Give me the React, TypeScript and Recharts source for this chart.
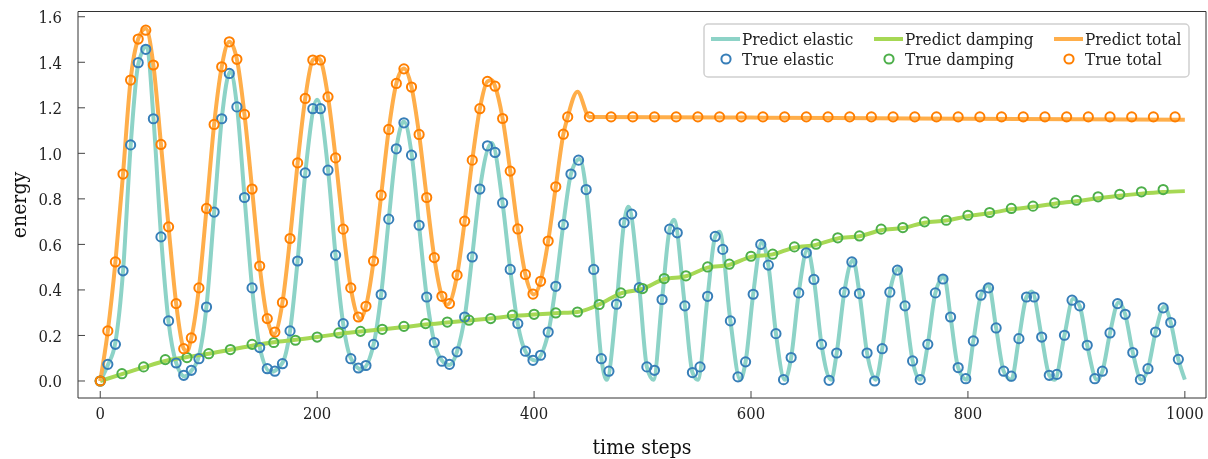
import React from 'react';
import { ComposedChart, Line, XAxis, YAxis, ReferenceArea } from 'recharts';

const FONT = '"DejaVu Serif Condensed", "DejaVu Serif", serif';
const TEXT_STYLE = { fontStretch: 'condensed' as const };

// ---- Tick labels ----
const xTicks = [0, 200, 400, 600, 800, 1000];
const yTicks = [0, 0.2, 0.4, 0.6, 0.8, 1.0, 1.2, 1.4, 1.6];
const xDomain = [-20.5, 1019.5];
const yDomain = [-0.0747, 1.623];

// ---- True elastic (markers) ----
const trueElasticSteps = [
  0, 7, 14, 21, 28, 35, 42, 49, 56, 63, 70, 77, 84, 91, 98, 105, 112, 119, 126, 133,
  140, 147, 154, 161, 168, 175, 182, 189, 196, 203, 210, 217, 224, 231, 238, 245, 252, 259, 266, 273,
  280, 287, 294, 301, 308, 315, 322, 329, 336, 343, 350, 357, 364, 371, 378, 385, 392, 399, 406, 413,
  420, 427, 434, 441, 448, 455, 462, 469, 476, 483, 490, 497, 504, 511, 518, 525, 532, 539, 546, 553,
  560, 567, 574, 581, 588, 595, 602, 609, 616, 623, 630, 637, 644, 651, 658, 665, 672, 679, 686, 693,
  700, 707, 714, 721, 728, 735, 742, 749, 756, 763, 770, 777, 784, 791, 798, 805, 812, 819, 826, 833,
  840, 847, 854, 861, 868, 875, 882, 889, 896, 903, 910, 917, 924, 931, 938, 945, 952, 959, 966, 973,
  980, 987, 994,
];
const trueElasticValues = [
  0.0, 0.073, 0.161, 0.484, 1.037, 1.398, 1.457, 1.152, 0.633, 0.264, 0.079, 0.025, 0.047, 0.098, 0.325, 0.742, 1.152, 1.351, 1.204, 0.806,
  0.409, 0.147, 0.054, 0.043, 0.076, 0.22, 0.527, 0.914, 1.196, 1.196, 0.926, 0.553, 0.252, 0.098, 0.057, 0.068, 0.161, 0.38, 0.711, 1.02,
  1.134, 0.992, 0.684, 0.369, 0.169, 0.087, 0.073, 0.128, 0.281, 0.545, 0.843, 1.033, 1.004, 0.782, 0.49, 0.252, 0.131, 0.091, 0.113, 0.215,
  0.416, 0.687, 0.909, 0.97, 0.841, 0.49, 0.098, 0.043, 0.337, 0.696, 0.733, 0.41, 0.062, 0.047, 0.358, 0.667, 0.651, 0.33, 0.037, 0.062,
  0.372, 0.635, 0.578, 0.264, 0.018, 0.084, 0.381, 0.6, 0.509, 0.208, 0.006, 0.103, 0.387, 0.563, 0.446, 0.161, 0.003, 0.123, 0.39, 0.523,
  0.384, 0.123, 0.0, 0.142, 0.39, 0.487, 0.33, 0.088, 0.006, 0.161, 0.387, 0.448, 0.281, 0.059, 0.01, 0.176, 0.377, 0.409, 0.233, 0.043,
  0.021, 0.186, 0.369, 0.369, 0.193, 0.025, 0.029, 0.201, 0.355, 0.33, 0.157, 0.01, 0.043, 0.211, 0.34, 0.293, 0.125, 0.006, 0.054, 0.215,
  0.321, 0.257, 0.095,
];

// ---- Predicted elastic (line) ----
const predElasticSteps = [
  0, 7, 14, 21, 28, 35, 43, 49, 56, 63, 70, 78, 84, 91, 98, 105, 112, 120, 126, 133,
  140, 147, 157, 168, 175, 182, 189, 200, 210, 217, 224, 231, 241, 252, 259, 266, 273, 280, 287, 294,
  301, 308, 315, 322, 329, 336, 343, 350, 361, 371, 378, 385, 392, 401, 413, 420, 427, 434, 442, 448,
  455, 462, 467, 476, 483, 487, 497, 504, 510, 518, 525, 529, 539, 546, 551, 560, 567, 571, 581, 590,
  595, 602, 610, 616, 623, 631, 637, 644, 652, 658, 665, 674, 679, 686, 694, 700, 707, 715, 721, 728,
  736, 742, 749, 756, 763, 770, 778, 784, 791, 799, 805, 812, 819, 826, 833, 840, 847, 854, 859, 868,
  875, 880, 889, 897, 903, 910, 919, 924, 931, 939, 945, 952, 960, 966, 973, 981, 987, 994, 1000,
];
const predElasticValues = [
  0.0, 0.07, 0.17, 0.48, 1.03, 1.39, 1.47, 1.16, 0.64, 0.26, 0.08, 0.02, 0.045, 0.11, 0.33, 0.74, 1.15, 1.36, 1.21, 0.81,
  0.41, 0.15, 0.04, 0.08, 0.22, 0.53, 0.91, 1.235, 0.93, 0.55, 0.25, 0.1, 0.05, 0.16, 0.38, 0.71, 1.02, 1.14, 1.0, 0.68,
  0.37, 0.17, 0.09, 0.07, 0.13, 0.28, 0.55, 0.84, 1.045, 0.78, 0.49, 0.25, 0.13, 0.09, 0.21, 0.42, 0.69, 0.91, 0.975, 0.84,
  0.49, 0.1, 0.005, 0.337, 0.696, 0.765, 0.41, 0.062, 0.005, 0.358, 0.667, 0.708, 0.33, 0.037, 0.005, 0.372, 0.635, 0.656, 0.264, 0.005,
  0.084, 0.381, 0.612, 0.509, 0.208, 0.005, 0.103, 0.387, 0.576, 0.446, 0.161, 0.005, 0.123, 0.39, 0.532, 0.384, 0.123, 0.005, 0.142, 0.39,
  0.495, 0.33, 0.088, 0.005, 0.161, 0.387, 0.459, 0.281, 0.059, 0.005, 0.176, 0.377, 0.422, 0.233, 0.043, 0.005, 0.186, 0.369, 0.393, 0.193,
  0.025, 0.005, 0.201, 0.361, 0.33, 0.157, 0.005, 0.043, 0.211, 0.346, 0.293, 0.125, 0.005, 0.054, 0.215, 0.327, 0.257, 0.095, 0.006,
];

// ---- True damping (markers) ----
const trueDampingSteps = [
  0, 20, 40, 60, 80, 100, 120, 140, 160, 180, 200, 220, 240, 260, 280, 300, 320, 340, 360, 380,
  400, 420, 440, 460, 480, 500, 520, 540, 560, 580, 600, 620, 640, 660, 680, 700, 720, 740, 760, 780,
  800, 820, 840, 860, 880, 900, 920, 940, 960, 980,
];
const trueDampingValues = [
  0.0, 0.032, 0.062, 0.094, 0.103, 0.12, 0.138, 0.161, 0.169, 0.179, 0.193, 0.211, 0.218, 0.227, 0.24, 0.252, 0.259, 0.267, 0.274, 0.289,
  0.293, 0.299, 0.303, 0.336, 0.387, 0.406, 0.45, 0.462, 0.501, 0.513, 0.548, 0.557, 0.589, 0.601, 0.629, 0.637, 0.667, 0.674, 0.699, 0.706,
  0.728, 0.74, 0.758, 0.768, 0.782, 0.794, 0.809, 0.82, 0.831, 0.841,
];

// ---- Predicted damping (line) ----
const predDampingSteps = [
  0, 20, 40, 60, 80, 100, 120, 140, 160, 180, 200, 220, 240, 260, 280, 300, 320, 340, 360, 380,
  400, 420, 440, 460, 480, 500, 520, 540, 560, 580, 600, 620, 640, 660, 680, 700, 720, 740, 760, 780,
  800, 820, 840, 860, 880, 900, 920, 940, 960, 980, 1000,
];
const predDampingValues = [
  0.0, 0.03, 0.06, 0.088, 0.105, 0.12, 0.137, 0.155, 0.17, 0.181, 0.193, 0.207, 0.217, 0.227, 0.237, 0.248, 0.257, 0.266, 0.275, 0.285,
  0.292, 0.298, 0.303, 0.336, 0.385, 0.405, 0.447, 0.46, 0.498, 0.51, 0.545, 0.556, 0.586, 0.598, 0.626, 0.636, 0.662, 0.672, 0.695, 0.705,
  0.724, 0.737, 0.754, 0.765, 0.779, 0.79, 0.803, 0.814, 0.823, 0.83, 0.834,
];

// ---- True total (markers) ----
const trueTotalSteps = [
  0, 7, 14, 21, 28, 35, 42, 49, 56, 63, 70, 77, 84, 91, 98, 105, 112, 119, 126, 133,
  140, 147, 154, 161, 168, 175, 182, 189, 196, 203, 210, 217, 224, 231, 238, 245, 252, 259, 266, 273,
  280, 287, 294, 301, 308, 315, 322, 329, 336, 343, 350, 357, 364, 371, 378, 385, 392, 399, 406, 413,
  420, 427, 431, 451, 471, 491, 511, 531, 551, 571, 591, 611, 631, 651, 671, 691, 711, 731, 751, 771,
  791, 811, 831, 851, 871, 891, 911, 931, 951, 971, 991,
];
const trueTotalValues = [
  0.0, 0.22, 0.523, 0.909, 1.322, 1.502, 1.541, 1.388, 1.039, 0.677, 0.34, 0.142, 0.189, 0.409, 0.758, 1.127, 1.38, 1.49, 1.413, 1.171,
  0.843, 0.505, 0.274, 0.215, 0.345, 0.626, 0.958, 1.241, 1.41, 1.41, 1.248, 0.98, 0.667, 0.409, 0.281, 0.328, 0.527, 0.816, 1.105, 1.307,
  1.371, 1.291, 1.083, 0.806, 0.542, 0.372, 0.34, 0.465, 0.702, 0.97, 1.196, 1.316, 1.295, 1.153, 0.922, 0.668, 0.468, 0.382, 0.438, 0.615,
  0.853, 1.084, 1.16, 1.16, 1.16, 1.16, 1.16, 1.16, 1.16, 1.16, 1.16, 1.16, 1.16, 1.16, 1.16, 1.16, 1.16, 1.16, 1.16, 1.16,
  1.16, 1.16, 1.16, 1.16, 1.16, 1.16, 1.16, 1.16, 1.16, 1.16, 1.16,
];

// ---- Predicted total (line) ----
const predTotalSteps = [
  0, 7, 14, 21, 28, 35, 42, 49, 56, 63, 70, 77, 80, 84, 91, 98, 105, 112, 119, 126,
  133, 140, 147, 154, 160, 168, 175, 182, 189, 196, 200, 203, 210, 217, 224, 231, 240, 245, 252, 259,
  266, 273, 280, 287, 294, 301, 308, 315, 320, 329, 336, 343, 350, 357, 361, 364, 371, 378, 385, 392,
  400, 406, 413, 420, 427, 431, 440, 451, 600, 750, 900, 1000,
];
const predTotalValues = [
  0.0, 0.22, 0.523, 0.909, 1.322, 1.502, 1.548, 1.388, 1.039, 0.677, 0.34, 0.142, 0.13, 0.189, 0.409, 0.758, 1.127, 1.38, 1.49, 1.413,
  1.171, 0.843, 0.505, 0.274, 0.205, 0.345, 0.626, 0.958, 1.241, 1.41, 1.42, 1.41, 1.248, 0.98, 0.667, 0.409, 0.272, 0.328, 0.527, 0.816,
  1.105, 1.307, 1.373, 1.291, 1.083, 0.806, 0.542, 0.372, 0.335, 0.465, 0.702, 0.97, 1.196, 1.316, 1.322, 1.295, 1.153, 0.922, 0.668, 0.468,
  0.38, 0.438, 0.615, 0.853, 1.084, 1.16, 1.27, 1.16, 1.157, 1.153, 1.15, 1.148,
];

const toPoints = (steps: number[], values: number[]) => steps.map((t, i) => ({ t, v: values[i] }));

const COLORS = {
  predElastic: '#8dd3c7',
  trueElastic: '#377eb8',
  predDamping: '#a6d854',
  trueDamping: '#4daf4a',
  predTotal: '#ffae4a',
  trueTotal: '#ff7f00',
};

const MARKER_R = 4.6;

const makeDot = (color: string) => (p: any) => (
  <circle key={`d-${color}-${p.index}`} cx={p.cx} cy={p.cy} r={MARKER_R} fill="none" stroke={color} strokeWidth={2} />
);

const XTick = (props: any) => {
  const { x, y, payload } = props;
  return (
    <g>
      <line x1={x} y1={y} x2={x} y2={y - 7} stroke="#444" strokeWidth={1} />
      <text x={x} y={y + 21} textAnchor="middle" fontFamily={FONT} style={TEXT_STYLE} fontSize={16.5} fill="#222">
        {payload.value}
      </text>
    </g>
  );
};

const YTick = (props: any) => {
  const { x, y, payload } = props;
  return (
    <g>
      <line x1={x} y1={y} x2={x + 7} y2={y} stroke="#444" strokeWidth={1} />
      <text x={x - 16} y={y + 6.5} textAnchor="end" fontFamily={FONT} style={TEXT_STYLE} fontSize={16.5} fill="#222">
        {Number(payload.value).toFixed(1)}
      </text>
    </g>
  );
};

const legendCols = [
  { line: 'Predict elastic', marker: 'True elastic', lc: COLORS.predElastic, mc: COLORS.trueElastic, x: 711 },
  { line: 'Predict damping', marker: 'True damping', lc: COLORS.predDamping, mc: COLORS.trueDamping, x: 874 },
  { line: 'Predict total', marker: 'True total', lc: COLORS.predTotal, mc: COLORS.trueTotal, x: 1054 },
];

export default function App() {
  return (
    <div style={{ position: 'fixed', left: 0, top: 0, width: 1208, height: 459 }}>
      <ComposedChart width={1208} height={459} margin={{ top: 11.5, right: 2, bottom: 0, left: 0 }}>
        <XAxis
          dataKey="t"
          type="number"
          domain={xDomain}
          ticks={xTicks}
          allowDataOverflow
          height={61}
          tickSize={0}
          tickMargin={0}
          axisLine={false}
          tickLine={false}
          tick={<XTick />}
          interval={0}
        />
        <YAxis
          type="number"
          domain={yDomain}
          ticks={yTicks}
          allowDataOverflow
          width={78}
          tickSize={0}
          tickMargin={0}
          axisLine={false}
          tickLine={false}
          tick={<YTick />}
          interval={0}
        />
        <Line data={toPoints(predElasticSteps, predElasticValues)} dataKey="v" type="monotone" stroke={COLORS.predElastic} strokeWidth={4} dot={false} activeDot={false} isAnimationActive={false} />
        <Line data={toPoints(trueElasticSteps, trueElasticValues)} dataKey="v" stroke="none" strokeWidth={0} dot={makeDot(COLORS.trueElastic)} activeDot={false} isAnimationActive={false} />
        <Line data={toPoints(predDampingSteps, predDampingValues)} dataKey="v" type="monotone" stroke={COLORS.predDamping} strokeWidth={4} dot={false} activeDot={false} isAnimationActive={false} />
        <Line data={toPoints(trueDampingSteps, trueDampingValues)} dataKey="v" stroke="none" strokeWidth={0} dot={makeDot(COLORS.trueDamping)} activeDot={false} isAnimationActive={false} />
        <Line data={toPoints(predTotalSteps, predTotalValues)} dataKey="v" type="monotone" stroke={COLORS.predTotal} strokeWidth={4} dot={false} activeDot={false} isAnimationActive={false} />
        <Line data={toPoints(trueTotalSteps, trueTotalValues)} dataKey="v" stroke="none" strokeWidth={0} dot={makeDot(COLORS.trueTotal)} activeDot={false} isAnimationActive={false} />
        <ReferenceArea x1={xDomain[0]} x2={xDomain[1]} y1={yDomain[0]} y2={yDomain[1]} fill="none" stroke="#333" strokeWidth={1} ifOverflow="visible" />
      </ComposedChart>
      <svg width={1208} height={459} style={{ position: 'absolute', left: 0, top: 0, pointerEvents: 'none' }}>
        <text x={642} y={454} textAnchor="middle" fontFamily={FONT} style={TEXT_STYLE} fontSize={21} fill="#111">time steps</text>
        <text x={19} y={205} textAnchor="middle" dominantBaseline="central" transform="rotate(-90 19 205)" fontFamily={FONT} style={TEXT_STYLE} fontSize={21} fill="#111">energy</text>
        <rect x={704} y={24} width={485} height={53} rx={4} fill="rgba(255,255,255,0.85)" stroke="#d0d0d0" strokeWidth={1.5} />
        {legendCols.map((c) => (
          <g key={c.line}>
            <line x1={c.x} y1={39} x2={c.x + 29} y2={39} stroke={c.lc} strokeWidth={4} />
            <text x={c.x + 31} y={44.5} fontFamily={FONT} style={TEXT_STYLE} fontSize={17} fill="#222">{c.line}</text>
            <circle cx={c.x + 15} cy={59} r={MARKER_R} fill="none" stroke={c.mc} strokeWidth={2} />
            <text x={c.x + 31} y={64.5} fontFamily={FONT} style={TEXT_STYLE} fontSize={17} fill="#222">{c.marker}</text>
          </g>
        ))}
      </svg>
    </div>
  );
}
